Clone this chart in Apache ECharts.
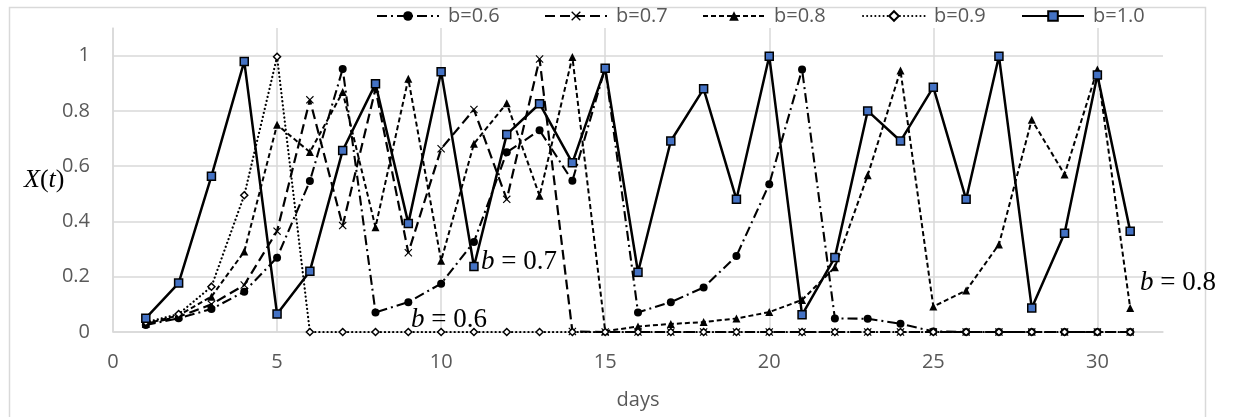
<!DOCTYPE html>
<html>
<head>
<meta charset="utf-8">
<script src="https://cdn.jsdelivr.net/npm/echarts@6/dist/echarts.min.js"></script>
<style>html,body{margin:0;padding:0;background:#fff;}#chart{width:1233px;height:417px;}</style>
</head>
<body>
<div id="chart"></div>
<script>
// ---- data ----
var days = [1,2,3,4,5,6,7,8,9,10,11,12,13,14,15,16,17,18,19,20,21,22,23,24,25,26,27,28,29,30,31];
var seriesNames = ['b=0.6','b=0.7','b=0.8','b=0.9','b=1.0'];
var b06 = [0.025,0.050,0.083,0.146,0.269,0.546,0.952,0.071,0.108,0.175,0.326,0.650,0.730,0.547,0.955,0.071,0.108,0.161,0.275,0.535,0.950,0.049,0.048,0.030,0.002,0,0,0,0,0,0];
var b07 = [0.030,0.055,0.100,0.170,0.365,0.840,0.385,0.880,0.287,0.663,0.805,0.480,0.988,0.002,0,0,0,0,0,0,0,0,0,0,0,0,0,0,0,0,0];
var b08 = [0.030,0.060,0.128,0.291,0.750,0.651,0.868,0.379,0.916,0.258,0.681,0.828,0.493,0.995,0.003,0.020,0.029,0.036,0.049,0.072,0.116,0.234,0.567,0.946,0.092,0.150,0.317,0.768,0.570,0.950,0.087];
var b09 = [0.035,0.065,0.164,0.495,0.996,0,0,0,0,0,0,0,0,0,0,0,0,0,0,0,0,0,0,0,0,0,0,0,0,0,0];
var b10 = [0.050,0.177,0.564,0.979,0.065,0.220,0.657,0.898,0.393,0.942,0.237,0.715,0.826,0.612,0.954,0.216,0.691,0.880,0.480,0.998,0.062,0.270,0.800,0.691,0.886,0.480,0.998,0.087,0.357,0.930,0.365];
var xTicks = {min:0, max:32, interval:5};
var yTicks = {min:0, max:1.1, interval:0.2};
var annotations = ['0.7','0.6','0.8'];

function pairs(vals){ return days.map(function(d,i){ return [d, vals[i]]; }); }

var chart = echarts.init(document.getElementById('chart'), null, {renderer:'canvas'});
var gray = '#595959';
var gridC = '#d9d9d9';
var font = '"Open Sans", "Noto Sans", sans-serif';
var crossPath = 'path://M0,1L1,0L5,4L9,0L10,1L6,5L10,9L9,10L5,6L1,10L0,9L4,5Z';

var styles = [
  {symbol:'circle', symbolSize:8, lineStyle:{color:'#000', width:2.1, type:[10,4,2,4]}, itemStyle:{color:'#000'}},
  {symbol:crossPath, symbolSize:8, lineStyle:{color:'#000', width:2.2, type:[10,5]}, itemStyle:{color:'#000'}},
  {symbol:'triangle', symbolSize:8, lineStyle:{color:'#000', width:2, type:[5,3]}, itemStyle:{color:'#000'}},
  {symbol:'diamond', symbolSize:7, lineStyle:{color:'#000', width:2.2, type:[0.1,4], cap:'round'}, itemStyle:{color:'#fff', borderColor:'#000', borderWidth:1.5}},
  {symbol:'rect', symbolSize:8, lineStyle:{color:'#000', width:2.5, type:'solid'}, itemStyle:{color:'#4472C4', borderColor:'#000', borderWidth:1.5}}
];
var allVals = [b06,b07,b08,b09,b10];
var series = allVals.map(function(v,i){
  var s = styles[i];
  return {
    name: seriesNames[i], type:'line', data: pairs(v),
    symbol: s.symbol, symbolSize: s.symbolSize, showAllSymbol:true,
    lineStyle: s.lineStyle, itemStyle: s.itemStyle,
    emphasis:{disabled:true}, z: 2+i
  };
});

var legendLefts = [371, 539, 697, 857, 1016];
var legends = seriesNames.map(function(n,i){
  return {
    data:[n], left: legendLefts[i], top: 1, itemWidth: 62, itemHeight: 12,
    textStyle:{color:gray, fontSize:20, fontFamily:font, padding:[0,0,0,4]},
    selectedMode:false
  };
});

var serif = '"Liberation Serif", "DejaVu Serif", serif';
function annot(val, left, top){
  return {
    type:'text', left:left, top:top, z:100,
    style:{
      text:'{i|b} = ' + val,
      font: '27px ' + serif, fill:'#000',
      rich:{ i:{fontStyle:'italic', fontFamily:serif, fontSize:27, fill:'#000'} }
    }
  };
}

var option = {
  animation:false,
  backgroundColor:'#fff',
  legend: legends,
  grid:{left:113, top:28, right:70, bottom:85, containLabel:false},
  xAxis:{
    type:'value', min:xTicks.min, max:xTicks.max, interval:xTicks.interval,
    name:'days', nameLocation:'middle', nameGap:58,
    nameTextStyle:{color:gray, fontSize:20, fontFamily:font},
    axisLine:{show:true, lineStyle:{color:gridC, width:1.5}},
    axisTick:{show:false},
    axisLabel:{color:gray, fontSize:20, fontFamily:font, margin:20, showMaxLabel:false},
    splitLine:{show:true, showMaxLine:false, lineStyle:{color:gridC, width:1.5}}
  },
  yAxis:{
    type:'value', min:yTicks.min, max:yTicks.max, interval:yTicks.interval,
    axisLine:{show:true, lineStyle:{color:gridC, width:1.5}},
    axisTick:{show:false},
    axisLabel:{color:gray, fontSize:20, fontFamily:font, margin:23, showMaxLabel:false},
    splitLine:{show:true, showMaxLine:false, lineStyle:{color:gridC, width:1.5}}
  },
  series: series,
  graphic:[
    {type:'rect', left:7, top:5, z:-10, silent:true,
     shape:{x:0, y:0, width:1196, height:411},
     style:{fill:'none', stroke:gridC, lineWidth:1.5}},
    {type:'text', left:24, top:167, z:100,
     style:{
       text:'{i|X}({i|t})', font:'26px ' + serif, fill:'#000',
       rich:{ i:{fontStyle:'italic', fontFamily:serif, fontSize:26, fill:'#000'} }
     }},
    annot(annotations[0], 481, 248),
    annot(annotations[1], 411, 306),
    annot(annotations[2], 1140, 269)
  ]
};
chart.setOption(option);
</script>
</body>
</html>
